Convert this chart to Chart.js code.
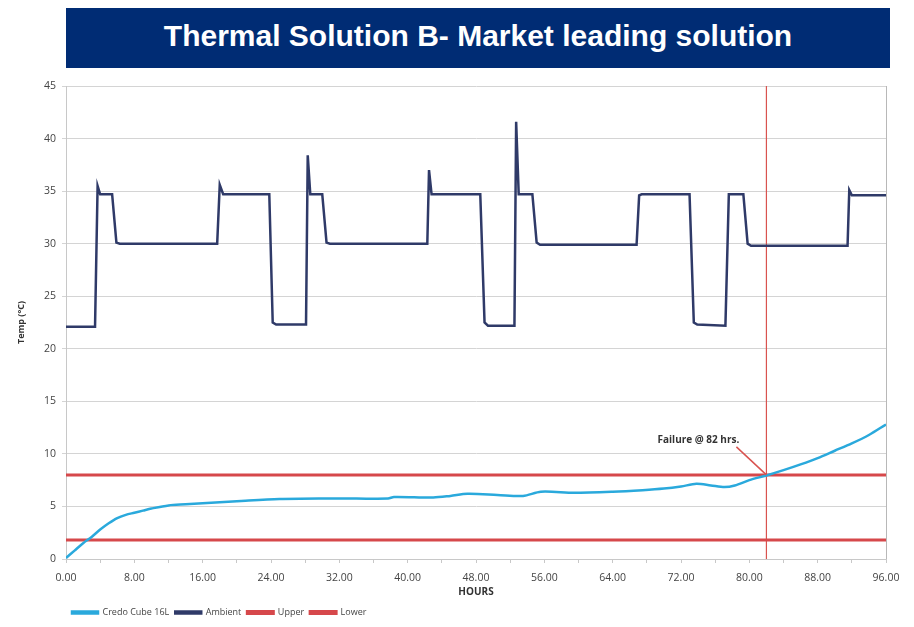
<!DOCTYPE html>
<html>
<head>
<meta charset="utf-8">
<script src="https://cdn.jsdelivr.net/npm/chart.js@4"></script>
<style>
    body { margin: 0; background: #fff; width: 914px; height: 627px; overflow: hidden; position: relative; }
    #banner {
        position: absolute; left: 66px; top: 8px; width: 824px; height: 60px;
        background: #002c74; color: #fff; font-family: "Liberation Sans", Arial, sans-serif;
        font-weight: bold; font-size: 30px; line-height: 56px; text-align: center;
    }
    #wrap { position: absolute; left: 0; top: 0; width: 914px; height: 627px; }
</style>
</head>
<body>
<div id="banner">Thermal Solution B- Market leading solution</div>
<div id="wrap"><canvas id="chart_1"></canvas></div>
<script>
// Dados
var ambientHours = [0, 3.4, 3.7, 4.0, 5.4, 5.9, 6.3, 17.7, 18.0, 18.4, 23.8, 24.2, 24.6, 28.1, 28.3, 28.6, 30.0, 30.5, 30.9,
    42.3, 42.5, 42.8, 48.5, 49.0, 49.4, 52.5, 52.7, 53.0, 54.6, 55.1, 55.5, 66.8, 67.1, 67.4, 73.0, 73.5, 73.9,
    77.2, 77.6, 79.3, 79.8, 80.2, 91.5, 91.7, 92.0, 96]
var ambientTemps = [22.1, 22.1, 35.5, 34.7, 34.7, 30.1, 30.0, 30.0, 35.6, 34.7, 34.7, 22.5, 22.3, 22.3, 38.4, 34.7, 34.7, 30.1, 30.0,
    30.0, 37.0, 34.7, 34.7, 22.5, 22.2, 22.2, 41.6, 34.7, 34.7, 30.1, 29.9, 29.9, 34.6, 34.7, 34.7, 22.5, 22.3,
    22.2, 34.7, 34.7, 30.0, 29.8, 29.8, 35.1, 34.6, 34.6]

var credoHours = [0, 1, 2, 3, 4, 5, 6, 7, 8, 9, 10, 12, 14, 16, 18, 21, 25, 30, 34, 37.7, 38.4, 43, 45, 47, 50.5, 53.5,
    55.6, 59.5, 64, 67.5, 70, 72, 73.8, 75.5, 77.1, 78.3, 80, 82, 84, 86, 88, 90, 92, 94, 96]
var credoTemps = [0.1, 0.8, 1.5, 2.1, 2.8, 3.4, 3.9, 4.2, 4.4, 4.6, 4.8, 5.1, 5.2, 5.3, 5.4, 5.55, 5.7, 5.75, 5.75, 5.75, 5.9,
    5.85, 6.0, 6.2, 6.1, 6.0, 6.4, 6.3, 6.4, 6.55, 6.7, 6.9, 7.15, 7.0, 6.85, 7.0, 7.5, 7.95, 8.45, 9.0, 9.6, 10.3,
    11.0, 11.8, 12.8]

var upperLimit = 8.0
var lowerLimit = 1.8
var failureHour = 82
var failureText = 'Failure @ 82 hrs.'
var seriesNames = ['Credo Cube 16L', 'Ambient', 'Upper', 'Lower']
var yMax = 45
var xMax = 96

function pontos(xs, ys) {
    return xs.map((x, i) => ({ x: x, y: ys[i] }))
}

// Borda direita e anotação da falha
var extras = {
    id: 'extras',
    afterDatasetsDraw(chart) {
        let ctx = chart.ctx
        let a = chart.chartArea
        let sx = chart.scales.x, sy = chart.scales.y
        ctx.save()
        ctx.strokeStyle = '#b8b8b8'
        ctx.lineWidth = 1
        ctx.beginPath()
        ctx.moveTo(a.right + 0.5, a.top)
        ctx.lineTo(a.right + 0.5, a.bottom)
        ctx.stroke()

        let px = sx.getPixelForValue(failureHour)
        let py = sy.getPixelForValue(upperLimit)
        ctx.strokeStyle = '#d9534f'
        ctx.lineWidth = 1.5
        ctx.beginPath()
        ctx.moveTo(px - 30, py - 28)
        ctx.lineTo(px, py)
        ctx.stroke()
        ctx.fillStyle = '#333'
        ctx.font = 'bold 10px "Open Sans"'
        ctx.textAlign = 'center'
        ctx.textBaseline = 'middle'
        ctx.fillText(failureText, px - 68, py - 35)
        ctx.restore()
    }
}

var chart = new Chart(document.getElementById('chart_1').getContext('2d'), {
    type: 'line',
    data: {
        datasets: [{
            label: seriesNames[0],
            data: pontos(credoHours, credoTemps),
            borderColor: '#2aa9dc',
            backgroundColor: '#2aa9dc',
            borderWidth: 2.5,
            pointRadius: 0,
            tension: 0.3
        }, {
            label: seriesNames[1],
            data: pontos(ambientHours, ambientTemps),
            borderColor: '#2f3a68',
            backgroundColor: '#2f3a68',
            borderWidth: 2.5,
            pointRadius: 0
        }, {
            label: seriesNames[2],
            data: [{ x: 0, y: upperLimit }, { x: xMax, y: upperLimit }],
            borderColor: '#d6484b',
            backgroundColor: '#e0787a',
            borderWidth: 3,
            pointRadius: 0
        }, {
            label: seriesNames[3],
            data: [{ x: 0, y: lowerLimit }, { x: xMax, y: lowerLimit }],
            borderColor: '#d6484b',
            backgroundColor: '#d6484b',
            borderWidth: 3,
            pointRadius: 0
        }, {
            label: 'Failure',
            data: [{ x: failureHour, y: 0 }, { x: failureHour, y: yMax }],
            borderColor: '#d9534f',
            borderWidth: 1.2,
            pointRadius: 0
        }]
    },
    options: {
        responsive: true,
        maintainAspectRatio: false,
        animation: false,
        layout: { padding: { top: 86, right: 28, bottom: 0, left: 16 } },
        plugins: {
            tooltip: { enabled: false },
            legend: {
                position: 'bottom',
                align: 'start',
                fullSize: false,
                labels: {
                    boxWidth: 26,
                    boxHeight: 2,
                    padding: 6,
                    color: '#444',
                    font: { family: 'Open Sans', size: 9 },
                    filter: item => item.text !== 'Failure'
                }
            }
        },
        scales: {
            x: {
                type: 'linear',
                min: 0,
                max: xMax,
                afterFit(scale) { scale.height = 43 },
                ticks: {
                    stepSize: 4,
                    autoSkip: false,
                    maxRotation: 0,
                    color: '#444',
                    padding: 9,
                    font: { family: 'Open Sans', size: 10.5 },
                    callback: v => v % 8 === 0 ? v.toFixed(2) : ''
                },
                grid: { drawOnChartArea: false, drawTicks: true, tickLength: 4, color: '#c8c8c8' },
                border: { color: '#c8c8c8' },
                title: {
                    display: true,
                    text: 'HOURS',
                    color: '#333',
                    padding: { top: 0 },
                    font: { family: 'Open Sans', size: 10, weight: 'bold' }
                }
            },
            y: {
                min: 0,
                max: yMax,
                afterFit(scale) { scale.width = 50 },
                ticks: {
                    stepSize: 5,
                    color: '#444',
                    padding: 6,
                    font: { family: 'Open Sans', size: 10.5 }
                },
                grid: { color: '#d4d4d4', tickLength: 4 },
                border: { color: '#c8c8c8' },
                title: {
                    display: true,
                    text: 'Temp (°C)',
                    color: '#333',
                    padding: 0,
                    font: { family: 'Open Sans', size: 9, weight: 'bold' }
                }
            }
        }
    },
    plugins: [extras]
})
</script>
</body>
</html>
